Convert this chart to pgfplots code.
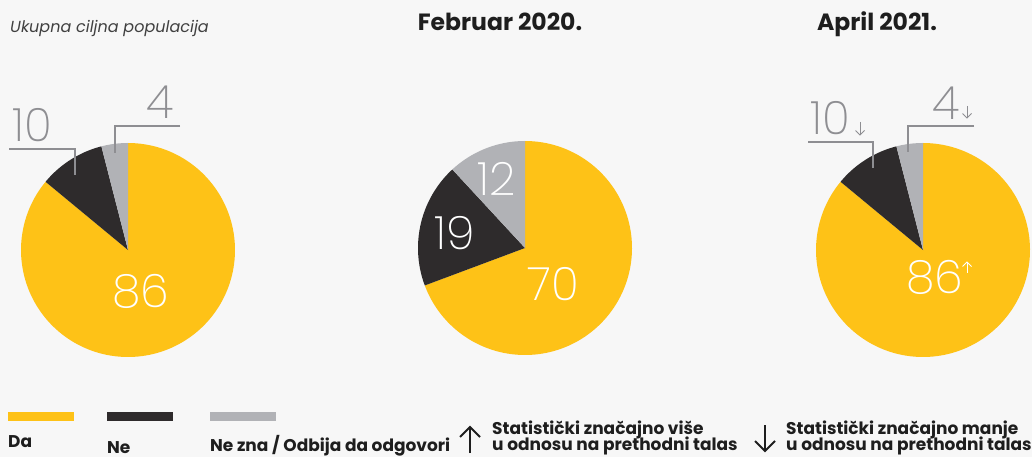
\documentclass[border=0pt]{standalone}
\usepackage{pgfplots}
\pgfplotsset{compat=1.18}
\usepackage{fontspec}
\setmainfont{Poppins}
\newfontfamily\lt{Poppins ExtraLight}
\definecolor{cda}{HTML}{FEC217}
\definecolor{cne}{HTML}{2E2B2C}
\definecolor{cnz}{HTML}{B1B2B6}
\definecolor{lbl}{HTML}{8E8E92}
\definecolor{bg}{HTML}{F7F7F7}
\definecolor{txt}{HTML}{1E1E1E}
% pie: cx, cy, Da, Ne, NeZna
\newcommand{\pie}[5]{%
\addplot[draw=none, fill=cda, domain={90-360*(#3)/(#3+#4+#5)}:90, samples=150] ({#1+107*cos(x)},{#2-107*sin(x)}) -- (#1,#2) -- cycle;
\addplot[draw=none, fill=cne, domain={90-360*(#3+#4)/(#3+#4+#5)}:{90-360*(#3)/(#3+#4+#5)}, samples=60] ({#1+107*cos(x)},{#2-107*sin(x)}) -- (#1,#2) -- cycle;
\addplot[draw=none, fill=cnz, domain=-270:{90-360*(#3+#4)/(#3+#4+#5)}, samples=40] ({#1+107*cos(x)},{#2-107*sin(x)}) -- (#1,#2) -- cycle;
}
\begin{document}
\begin{tikzpicture}
\begin{axis}[width=1032pt,height=457pt,scale only axis,xmin=0,xmax=1032,ymin=0,ymax=457,y dir=reverse,hide axis,clip=false]
\fill[bg] (0,0) rectangle (1032,457);
% titles
\node[anchor=base west, font=\fontsize{16}{19}\selectfont\itshape, text=txt!85, inner sep=0pt] at (10,33) {Ukupna ciljna populacija};
\node[anchor=base, font=\fontsize{23.5}{26}\selectfont\bfseries, text=txt] at (500,31) {Februar 2020.};
\node[anchor=base, font=\fontsize{23.5}{26}\selectfont\bfseries, text=txt] at (877,31) {April 2021.};
% pies
\pie{128}{250}{86}{10}{4}
\pie{525}{248}{70}{19}{12}
\pie{923}{250}{86}{10}{4}
% leader lines
\draw[lbl, line width=1.3pt] (9,149) -- (75,149) -- (75,175);
\draw[lbl, line width=1.3pt] (180,126) -- (115,126) -- (115,153);
\draw[lbl, line width=1.3pt] (808,142) -- (873,142) -- (873,168);
\draw[lbl, line width=1.3pt] (974,126) -- (908,126) -- (908,152);
% value labels
\node[font=\fontsize{46}{50}\selectfont\lt, text=lbl, anchor=base] at (32,142) {10};
\node[font=\fontsize{46}{50}\selectfont\lt, text=lbl, anchor=base] at (160,119) {4};
\node[font=\fontsize{46}{50}\selectfont\lt, text=white, anchor=base] at (141,307) {86};
\node[font=\fontsize{46}{50}\selectfont\lt, text=white, anchor=base] at (553,300) {70};
\node[font=\fontsize{46}{50}\selectfont\lt, text=white, anchor=base] at (455,249) {19};
\node[font=\fontsize{46}{50}\selectfont\lt, text=white, anchor=base] at (497,195) {12};
\node[font=\fontsize{46}{50}\selectfont\lt, text=lbl, anchor=base] at (830,135) {10};
\node[font=\fontsize{46}{50}\selectfont\lt, text=lbl, anchor=base] at (946,120) {4};
\node[font=\fontsize{46}{50}\selectfont\lt, text=white, anchor=base] at (935,293) {86};
% small arrows
\draw[lbl, line width=1pt] (860,122) -- (860,135); \draw[lbl, line width=1pt] (855.5,130.5) -- (860,135) -- (864.5,130.5);
\draw[lbl, line width=1pt] (967,106) -- (967,118); \draw[lbl, line width=1pt] (962.5,113.5) -- (967,118) -- (971.5,113.5);
\draw[white, line width=1pt] (967,273) -- (967,262); \draw[white, line width=1pt] (962.5,266.5) -- (967,262) -- (971.5,266.5);
% legend
\addplot[cda, line width=9pt] coordinates {(8,416.5) (74,416.5)};
\addplot[cne, line width=9pt] coordinates {(107,416.5) (173,416.5)};
\addplot[cnz, line width=9pt] coordinates {(210,416.5) (276,416.5)};
\node[anchor=base west, font=\fontsize{17}{20}\selectfont\bfseries, text=txt, inner sep=0pt] at (8,447) {Da};
\node[anchor=base west, font=\fontsize{17}{20}\selectfont\bfseries, text=txt, inner sep=0pt] at (107,453) {Ne};
\node[anchor=base west, font=\fontsize{17}{20}\selectfont\bfseries, text=txt, inner sep=0pt] at (210,451) {Ne zna / Odbija da odgovori};
% significance legend
\draw[txt, line width=2pt] (470,453) -- (470,427); \draw[txt, line width=2pt] (460,437) -- (470,427) -- (480,437);
\draw[txt, line width=2pt] (765,425) -- (765,451); \draw[txt, line width=2pt] (755,441) -- (765,451) -- (775,441);
\node[anchor=base west, font=\fontsize{17}{17}\selectfont\bfseries, text=txt, inner sep=0pt] at (492,434) {Statistički značajno više};
\node[anchor=base west, font=\fontsize{17}{17}\selectfont\bfseries, text=txt, inner sep=0pt] at (492,450) {u odnosu na prethodni talas};
\node[anchor=base west, font=\fontsize{17}{17}\selectfont\bfseries, text=txt, inner sep=0pt] at (786,434) {Statistički značajno manje};
\node[anchor=base west, font=\fontsize{17}{17}\selectfont\bfseries, text=txt, inner sep=0pt] at (786,450) {u odnosu na prethodni talas};
\end{axis}
\end{tikzpicture}
\end{document}
